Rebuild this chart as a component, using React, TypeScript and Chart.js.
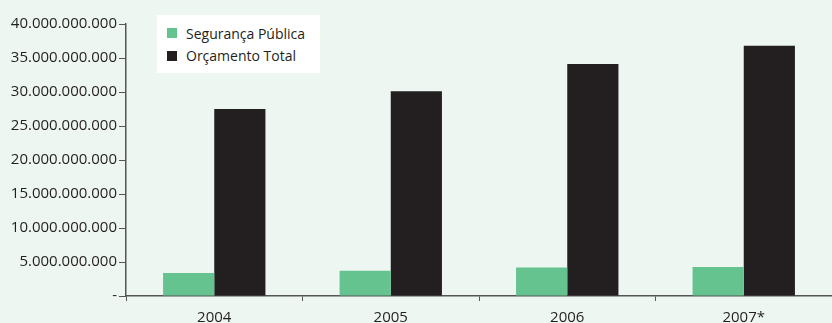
import React, { useEffect, useRef } from "react";
import { Chart, registerables } from "chart.js";

Chart.register(...registerables);

const categories = ["2004", "2005", "2006", "2007*"];
const seguranca = [3.38e9, 3.7e9, 4.2e9, 4.26e9];
const orcamento = [27.5e9, 30.1e9, 34.1e9, 36.8e9];
const seriesNames = ["Segurança Pública", "Orçamento Total"];
const colors = ["#64C38E", "#231F20"];

const FONT = "'Open Sans', sans-serif";

function fmt(v: number): string {
  if (v === 0) return "-";
  return Math.round(v).toString().replace(/\B(?=(\d{3})+(?!\d))/g, ".");
}

export default function App() {
  const ref = useRef<HTMLCanvasElement | null>(null);
  useEffect(() => {
    document.body.style.margin = "0";
    const ctx = ref.current!;
    const chart = new Chart(ctx, {
      type: "bar",
      data: {
        labels: categories,
        datasets: [
          { label: seriesNames[0], data: seguranca, backgroundColor: colors[0], categoryPercentage: 0.58, barPercentage: 1 },
          { label: seriesNames[1], data: orcamento, backgroundColor: colors[1], categoryPercentage: 0.58, barPercentage: 1 },
        ],
      },
      options: {
        responsive: false,
        animation: false,
        layout: { padding: { top: 24, right: 0, left: 0, bottom: 0 } },
        plugins: { legend: { display: false }, tooltip: { enabled: false } },
        scales: {
          x: {
            grid: { display: true, drawOnChartArea: false, offset: true, tickLength: 5, color: "#555", lineWidth: 1 },
            border: { display: true, color: "#555", width: 1.5 },
            ticks: { color: "#231F20", font: { family: FONT, size: 15 }, padding: 8 },
            afterFit: (s: any) => { s.height = 27; },
          },
          y: {
            min: 0,
            max: 40e9,
            grid: { display: true, drawOnChartArea: false, tickLength: 7, color: "#555", lineWidth: 1 },
            border: { display: true, color: "#555", width: 1.5 },
            ticks: { stepSize: 5e9, color: "#231F20", font: { family: FONT, size: 15 }, padding: 2, callback: (v: any) => fmt(Number(v)) },
            afterFit: (s: any) => { s.width = 126; },
          },
        },
      },
    });
    return () => chart.destroy();
  }, []);

  return (
    <div style={{ position: "relative", width: 832, height: 323, background: "#EDF6F1", fontFamily: FONT, overflow: "hidden" }}>
      <canvas ref={ref} width={832} height={323} style={{ display: "block" }} />
      <div style={{ position: "absolute", left: 157, top: 15, width: 163, height: 58, background: "#FFFFFF", boxSizing: "border-box", padding: "7px 0 0 10px", color: "#231F20", fontSize: 14 }}>
        {seriesNames.map((n, i) => (
          <div key={n} style={{ display: "flex", alignItems: "center", height: 22.5 }}>
            <span style={{ display: "inline-block", width: 10, height: 10, background: colors[i], marginRight: 9 }} />
            <span>{n}</span>
          </div>
        ))}
      </div>
    </div>
  );
}
